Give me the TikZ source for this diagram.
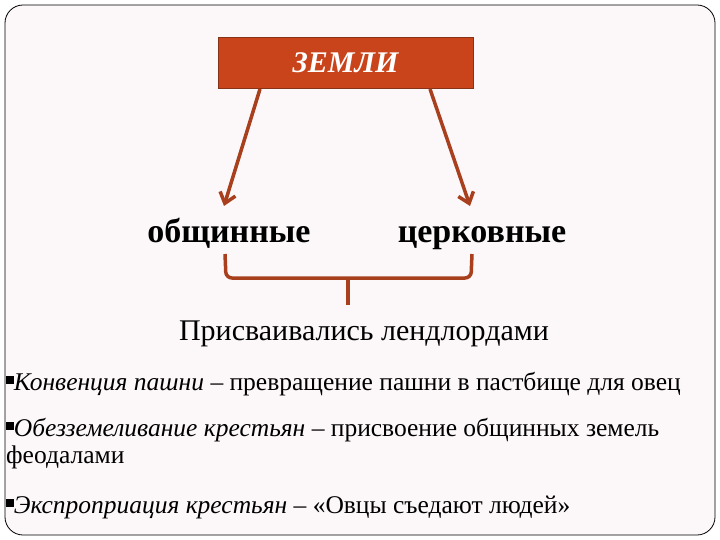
\documentclass[tikz,border=0pt]{standalone}
\usepackage{fontspec}
\setmainfont{Liberation Serif}
\usetikzlibrary{arrows.meta}
\newcommand{\sqb}{\rule[0.25em]{0.3em}{0.3em}}
\begin{document}
\begin{tikzpicture}[x=1pt,y=-1pt,
  conn/.style={draw=arrowc,line width=3.5pt},
  lbl/.style={font=\fontsize{34}{36}\selectfont\bfseries,inner sep=0,anchor=base},
  bul/.style={font=\fontsize{25.5}{28}\selectfont,anchor=base west,inner sep=0}]
\definecolor{arrowc}{HTML}{A8401E}
\definecolor{boxc}{HTML}{C9431B}
\definecolor{bg}{HTML}{FCF7F8}
\useasboundingbox (0,0) rectangle (720,540);
\draw[fill=bg,rounded corners=18pt,line width=0.8pt] (5,5) rectangle (715,535);
\node[draw=arrowc!80!black,fill=boxc,minimum width=255pt,minimum height=51pt,inner sep=0,
  font=\fontsize{30}{32}\selectfont\bfseries\itshape,text=white] (z) at (345.5,62.5) {ЗЕМЛИ};
\node[lbl] (o) at (229,242) {общинные};
\node[lbl] (c) at (482,242) {церковные};
\coordinate (zl) at (260,89); \coordinate (zr) at (430,89);
\coordinate (ol) at (224,206); \coordinate (cr) at (470,206);
\draw[conn,-{Straight Barb[length=10pt,width=16pt]}] (zl) -- (ol);
\draw[conn,-{Straight Barb[length=10pt,width=16pt]}] (zr) -- (cr);
\coordinate (b1) at (225,254); \coordinate (b2) at (472,254);
\coordinate (bm) at (348,278); \coordinate (bt) at (348,305);
\draw[conn,rounded corners=6pt] (b1) -- (226,278) -- (471,278) -- (b2);
\draw[conn] (bm) -- (bt);
\node[font=\fontsize{30}{32}\selectfont,inner sep=0,anchor=base] (p) at (364,340) {Присваивались лендлордами};
\node[bul] (l1) at (6,390) {\sqb\textit{Конвенция пашни} – превращение пашни в пастбище для овец};
\node[bul] (l2) at (6,436) {\sqb\textit{Обезземеливание крестьян} – присвоение общинных земель};
\node[bul] (l3) at (6,463) {феодалами};
\node[bul] (l4) at (6,513) {\sqb\textit{Экспроприация крестьян} – «Овцы съедают людей»};
\end{tikzpicture}
\end{document}
